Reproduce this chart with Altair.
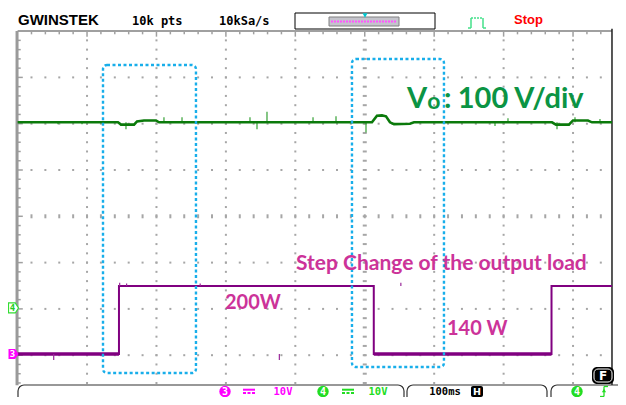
import altair as alt
import pandas as pd

# ---------------- data read from the oscilloscope screen ----------------
# time axis in ms (100 ms/div), vertical position in screen divisions (0 = centre)
CH3_T = [0, 146, 146, 513, 513, 769, 769, 856]          # load step (channel 3)
CH3_V = [0, 0, 14.7, 14.7, 0, 0, 14.7, 14.7]             # volts, 10 V/div
CH3_GND = -2.974                                          # ground marker "3" (div)
CH3_TICK_T = [52, 147, 157, 263, 377, 552]
CH3_TICK_FROM = [0, 14.7, 14.7, 14.7, 0, 14.7]
CH3_TICK_TO = [-1.3, 15.4, 15.2, 15.2, -1.3, 15.4]

CH4_T = [0, 144.6, 148.9, 167.7, 172.0, 182.0, 199.3, 203.7, 510.4, 517.6, 524.8,
         530.6, 536.3, 542.1, 565.1, 570.9, 769.7, 775.4, 794.1, 799.9, 821.5,
         827.3, 856.1]
CH4_V = [40.1, 40.1, 39.6, 39.6, 40.3, 40.5, 40.5, 40.1, 40.1, 41.5, 41.6,
         41.4, 40.1, 39.7, 39.8, 40.1, 40.1, 39.6, 39.6, 40.5, 40.5,
         40.1, 40.1]
CH4_GND = -1.98                                           # ground marker "4" (div)
CH4_BASE = 40.1
SPIKE_T = [58.2, 92.8, 156.1, 210.8, 236.8, 334.7, 344.8, 359.2, 425.5, 458.6,
           501.8, 687.6, 706.3, 776.9, 802.8, 838.8]
SPIKE_V = [39.7, 39.7, 38.6, 41.2, 41.2, 41.2, 38.6, 42.4, 41.2, 41.4,
           37.9, 39.3, 41.0, 38.6, 41.2, 40.8]

# highlighted windows (blue dotted boxes)
BOX_T1 = [123.0, 481.6]
BOX_T2 = [256.9, 614.1]
BOX_V1 = [3.268, 3.398]
BOX_V2 = [-3.384, -3.255]

# annotations
ANN_LABEL = ["V", "o", ":", "100 V/div", "Step Change  of the output load", "200W", "140 W"]
ANN_T = [560.9, 590.0, 614.0, 634.0, 401.0, 298.7, 618.4]
ANN_V = [2.333, 2.318, 2.333, 2.333, -1.160, -2.002, -2.564]
ANN_SIZE = [29, 23, 29, 29, 21, 20, 20]
ANN_COLOR = ["#0b9444"] * 4 + ["#cc3399"] * 3

T_END = 856.1
GRID_ROWS = [-3, -2, -1, 1, 2, 3]
GRID_COLS = [100, 200, 300, 400, 600, 700, 800]

# ---------------- scales ----------------
X = alt.Scale(domain=[-13.83, 864.76], nice=False, zero=False)
Y = alt.Scale(domain=[-3.903, 4.499], nice=False, zero=False)


def xe(f="t"):
    return alt.X(f + ":Q", scale=X, axis=None)


def ye(f="v"):
    return alt.Y(f + ":Q", scale=Y, axis=None)


one = pd.DataFrame({"a": [0]})


def prect(x, x2, y, y2, **kw):
    return alt.Chart(one).mark_rect(**kw).encode(
        x=alt.value(x), x2=alt.value(x2), y=alt.value(y), y2=alt.value(y2))


def prule(x, x2, y, y2, **kw):
    return alt.Chart(one).mark_rule(**kw).encode(
        x=alt.value(x), x2=alt.value(x2), y=alt.value(y), y2=alt.value(y2))


def ptext(x, y, text, **kw):
    return alt.Chart(one).mark_text(text=text, **kw).encode(
        x=alt.value(x), y=alt.value(y))


def ppoint(x, y, **kw):
    return alt.Chart(one).mark_point(**kw).encode(x=alt.value(x), y=alt.value(y))


layers = []

# ---------------- graticule ----------------
dots = []
for v in GRID_ROWS:
    for k in range(1, 43):
        dots.append({"t": k * 20, "v": v})
for t in GRID_COLS:
    for k in range(-19, 20):
        dots.append({"t": t, "v": round(k * 0.2, 2)})
layers.append(alt.Chart(pd.DataFrame(dots)).mark_square(size=4, color="#a6a6a6", opacity=1)
              .encode(x=xe(), y=ye()))

crow = pd.DataFrame({"t": [k * 20 for k in range(1, 43)], "v": [0] * 42})
layers.append(alt.Chart(crow).mark_point(
    shape="M-0.5,-1L0.5,-1L0.5,1L-0.5,1Z", size=16, filled=True, color="#a6a6a6", opacity=1)
    .encode(x=xe(), y=ye()))
ccol = pd.DataFrame({"t": [500] * 39, "v": [round(k * 0.2, 2) for k in range(-19, 20)]})
layers.append(alt.Chart(ccol).mark_point(
    shape="M-1,-0.5L1,-0.5L1,0.5L-1,0.5Z", size=16, filled=True, color="#a6a6a6", opacity=1)
    .encode(x=xe(), y=ye()))

# border ticks
tt = []
for k in range(1, 43):
    tt.append({"t": k * 20, "v": 4.0, "v2": 3.88 if k % 5 == 0 else 3.93})
layers.append(alt.Chart(pd.DataFrame(tt)).mark_rule(color="#a0a0a0", strokeWidth=1.5)
              .encode(x=xe(), y=ye(), y2="v2:Q"))
lt = []
for k in range(-18, 20):
    lt.append({"t": 0, "t2": 7.5 if k % 5 == 0 else 4.5, "v": round(k * 0.2, 2)})
layers.append(alt.Chart(pd.DataFrame(lt)).mark_rule(color="#a0a0a0", strokeWidth=1.5)
              .encode(x=xe(), x2="t2:Q", y=ye()))

# borders
border = pd.DataFrame({"t": [0], "t2": [T_END], "v": [4.0]})
layers.append(alt.Chart(border).mark_rule(color="#a0a0a0", strokeWidth=2)
              .encode(x=xe(), x2="t2:Q", y=ye()))
lb = pd.DataFrame({"t": [-0.8], "v": [4.0], "v2": [-3.65]})
layers.append(alt.Chart(lb).mark_rule(color="#9a9a9a", strokeWidth=3)
              .encode(x=xe(), y=ye(), y2="v2:Q"))
rb = pd.DataFrame({"t": [T_END], "v": [4.05], "v2": [-3.903]})
layers.append(alt.Chart(rb).mark_rule(color="#202020", strokeWidth=1.5)
              .encode(x=xe(), y=ye(), y2="v2:Q"))

# ---------------- traces ----------------
ch4 = pd.DataFrame({"t": CH4_T, "v": [CH4_GND + x / 10 for x in CH4_V], "i": range(len(CH4_T))})
sp = pd.DataFrame({"t": SPIKE_T, "v": [CH4_GND + CH4_BASE / 10] * len(SPIKE_T),
                   "v2": [CH4_GND + x / 10 for x in SPIKE_V]})
layers.append(alt.Chart(sp).mark_rule(color="#44a844", strokeWidth=1.3)
              .encode(x=xe(), y=ye(), y2="v2:Q"))
layers.append(alt.Chart(ch4).mark_line(color="#0b7a0b", strokeWidth=2.6)
              .encode(x=xe(), y=ye(), order="i:Q"))

ch3 = pd.DataFrame({"t": CH3_T, "v": [CH3_GND + x / 10 for x in CH3_V], "i": range(len(CH3_T))})
low = []
for i in range(len(CH3_T) - 1):
    if CH3_V[i] == 0 and CH3_V[i + 1] == 0 and CH3_T[i] != CH3_T[i + 1]:
        low.append({"t": CH3_T[i], "t2": CH3_T[i + 1], "v": CH3_GND})
layers.append(alt.Chart(ch3).mark_line(color="#800080", strokeWidth=2)
              .encode(x=xe(), y=ye(), order="i:Q"))
layers.append(alt.Chart(pd.DataFrame(low)).mark_rule(color="#800080", strokeWidth=3.6)
              .encode(x=xe(), x2="t2:Q", y=ye()))
ct = pd.DataFrame({"t": CH3_TICK_T, "v": [CH3_GND + x / 10 for x in CH3_TICK_FROM],
                   "v2": [CH3_GND + x / 10 for x in CH3_TICK_TO]})
layers.append(alt.Chart(ct).mark_rule(color="#9a2a9a", strokeWidth=1.2)
              .encode(x=xe(), y=ye(), y2="v2:Q"))

# ---------------- blue dotted windows ----------------
boxes = pd.DataFrame({"t": BOX_T1, "t2": BOX_T2, "v": BOX_V1, "v2": BOX_V2})
layers.append(alt.Chart(boxes).mark_rect(fillOpacity=0, stroke="#18aeea", strokeWidth=2.4,
                                         strokeDash=[3, 2.5], cornerRadius=4)
              .encode(x=xe(), x2="t2:Q", y=ye(), y2="v2:Q"))

# ---------------- annotations ----------------
ann = pd.DataFrame({"label": ANN_LABEL, "t": ANN_T, "v": ANN_V, "size": ANN_SIZE, "color": ANN_COLOR})
layers.append(alt.Chart(ann).mark_text(align="left", baseline="alphabetic", font="Lato",
                                       fontWeight="bold")
              .encode(x=xe(), y=ye(), text="label:N",
                      size=alt.Size("size:Q", scale=None, legend=None),
                      color=alt.Color("color:N", scale=None, legend=None)))

# ---------------- channel ground markers (kept inside the visible page) ----------------
mk = "M-1,-1L0.35,-1L1,0L0.35,1L-1,1Z"
m4 = pd.DataFrame({"v": [CH4_GND]})
m3 = pd.DataFrame({"v": [CH3_GND]})
layers.append(alt.Chart(m4).mark_point(shape=mk, size=100, filled=True, fill="white",
                                       stroke="#33dd33", strokeWidth=1.2, opacity=1)
              .encode(x=alt.value(5.5), y=ye()))
layers.append(alt.Chart(m4).mark_text(text="4", font="DejaVu Sans Mono", fontWeight="bold",
                                      fontSize=9, color="#22cc22", baseline="middle")
              .encode(x=alt.value(4.5), y=ye()))
layers.append(alt.Chart(m3).mark_point(shape=mk, size=100, filled=True, color="#ff00ff", opacity=1)
              .encode(x=alt.value(5.5), y=ye()))
layers.append(alt.Chart(m3).mark_text(text="3", font="DejaVu Sans Mono", fontWeight="bold",
                                      fontSize=9, color="white", baseline="middle")
              .encode(x=alt.value(4.5), y=ye()))

# ---------------- top status bar ----------------
layers.append(ptext(10, 12, "GWINSTEK", align="left", baseline="middle", font="Liberation Sans",
                    fontWeight="bold", fontSize=15, color="black"))
layers.append(ptext(124, 13, "10k pts", align="left", baseline="middle", font="DejaVu Sans Mono",
                    fontWeight="bold", fontSize=12, color="black"))
layers.append(ptext(211, 13, "10kSa/s", align="left", baseline="middle", font="DejaVu Sans Mono",
                    fontWeight="bold", fontSize=12, color="black"))
layers.append(prect(287, 427, 5, 21, fill="white", stroke="black", strokeWidth=1))
layers.append(prect(321, 391, 9, 18, fill="#c4c4cc", stroke="#808080", strokeWidth=1))
layers.append(prule(323, 389, 13.5, 13.5, color="#ff55ff", strokeWidth=2, strokeDash=[2, 1]))
layers.append(ppoint(357, 7.5, shape="triangle-down", filled=True, color="#00c8d0", size=25, opacity=1))
g = "#44e08a"
layers.append(prule(460, 463, 20, 20, color=g, strokeWidth=1.5))
layers.append(prule(463, 463, 20, 10, color=g, strokeWidth=1.5))
layers.append(prule(463, 475, 10, 10, color=g, strokeWidth=1.5, strokeDash=[2, 1]))
layers.append(prule(475, 475, 10, 20, color=g, strokeWidth=1.5))
layers.append(prule(475, 478, 20, 20, color=g, strokeWidth=1.5))
layers.append(ptext(506, 12, "Stop", align="left", baseline="middle", font="Liberation Sans",
                    fontWeight="bold", fontSize=13, color="#ff0000"))

# ---------------- bottom status bar ----------------
BY = 383.5   # centre line of the bottom bar contents (chart pixels)
layers.append(prect(10, 396, 377, 395, fill="white", stroke="#333333", strokeWidth=1.2, cornerRadius=6))
layers.append(prect(399, 539, 377, 395, fill="white", stroke="#333333", strokeWidth=1.2, cornerRadius=6))
layers.append(prect(543, 640, 377, 395, fill="white", stroke="#333333", strokeWidth=1.2, cornerRadius=6))
MG = "#ff00ff"
GN = "#22dd22"
layers.append(ppoint(217, BY, shape="circle", filled=True, color=MG, size=130, opacity=1))
layers.append(ptext(217, BY + 0.5, "3", baseline="middle", font="DejaVu Sans Mono", fontWeight="bold",
                    fontSize=10, color="white"))
layers.append(prule(235, 247, BY - 1.8, BY - 1.8, color=MG, strokeWidth=2))
layers.append(prule(235, 247, BY + 1.6, BY + 1.6, color=MG, strokeWidth=2, strokeDash=[3, 1.5]))
layers.append(ptext(275, BY + 0.5, "10V", baseline="middle", font="DejaVu Sans Mono", fontWeight="bold",
                    fontSize=10.5, color=MG))
layers.append(ppoint(315, BY, shape="circle", filled=True, color=GN, size=130, opacity=1))
layers.append(ptext(315, BY + 0.5, "4", baseline="middle", font="DejaVu Sans Mono", fontWeight="bold",
                    fontSize=10, color="white"))
layers.append(prule(334, 346, BY - 1.8, BY - 1.8, color=GN, strokeWidth=2))
layers.append(prule(334, 346, BY + 1.6, BY + 1.6, color=GN, strokeWidth=2, strokeDash=[3, 1.5]))
layers.append(ptext(370, BY + 0.5, "10V", baseline="middle", font="DejaVu Sans Mono", fontWeight="bold",
                    fontSize=10.5, color=GN))
layers.append(ptext(437, BY + 0.5, "100ms", baseline="middle", font="DejaVu Sans Mono", fontWeight="bold",
                    fontSize=10.5, color="black"))
layers.append(prect(463, 475, BY - 5.5, BY + 5.5, fill="black", cornerRadius=2))
layers.append(ptext(469, BY + 0.5, "H", baseline="middle", font="DejaVu Sans", fontWeight="bold",
                    fontSize=9.5, color="white"))
layers.append(ppoint(569, BY, shape="circle", filled=True, color=GN, size=130, opacity=1))
layers.append(ptext(569, BY + 0.5, "4", baseline="middle", font="DejaVu Sans Mono", fontWeight="bold",
                    fontSize=10, color="white"))
layers.append(prule(592, 596, BY + 5, BY + 5, color=GN, strokeWidth=1.3))
layers.append(prule(596, 596, BY + 5, BY - 5, color=GN, strokeWidth=1.3))
layers.append(prule(596, 600, BY - 5, BY - 5, color=GN, strokeWidth=1.3))
layers.append(ppoint(596, BY - 1, shape="triangle-up", filled=True, color=GN, size=18, opacity=1))
# F badge
layers.append(prect(584, 606, 359, 376, fill="black", cornerRadius=5))
layers.append(prect(586, 604, 361, 374, fill="black", stroke="white", strokeWidth=1, cornerRadius=4))
layers.append(ptext(595, 368, "F", baseline="middle", font="DejaVu Sans", fontWeight="bold",
                    fontSize=12, color="white"))

chart = alt.layer(*layers).properties(
    width=610, height=389, autosize=alt.AutoSizeParams(type="none"), padding=0,
    background="white"
).configure_view(stroke=None)

chart.save("out.html", embed_options={"renderer": "svg", "actions": False})
